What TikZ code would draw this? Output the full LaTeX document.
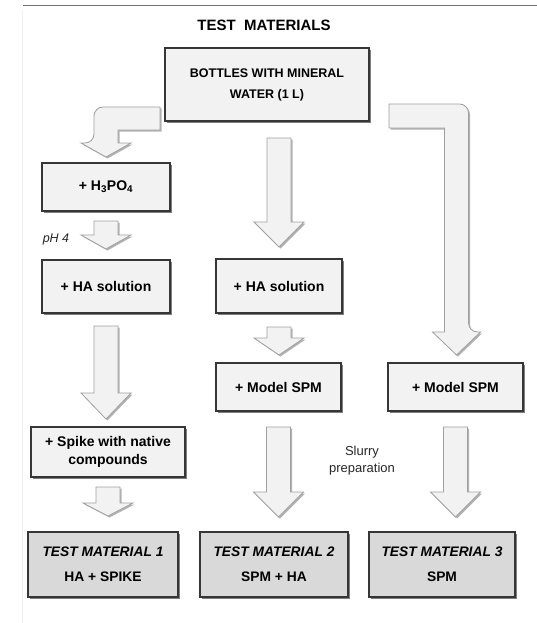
\documentclass[tikz,border=0pt]{standalone}
\usepackage{fontspec}
\setmainfont{Liberation Sans}
\usetikzlibrary{shadows,calc}
\definecolor{boxFill}{HTML}{F2F2F2}
\definecolor{boxLine}{HTML}{363636}
\definecolor{resFill}{HTML}{D9D9D9}
\definecolor{arrLine}{HTML}{A0A0A0}

% block arrow: x of #1, from #2 down to #3, gaps #4/#5, head length #6
\newcommand{\downblock}[6]{%
\draw[blockarr] let \p1=(#1), \p2=(#2.south), \p3=(#3.north) in
 (\x1-12pt,\y2-#4pt) -- (\x1+12pt,\y2-#4pt) -- (\x1+12pt,\y3+#5pt+#6pt) -- (\x1+25pt,\y3+#5pt+#6pt)
 -- (\x1,\y3+#5pt) -- (\x1-25pt,\y3+#5pt+#6pt) -- (\x1-12pt,\y3+#5pt+#6pt) -- cycle;}

\begin{document}
\begin{tikzpicture}
[
x=1pt, y=-1pt,
box/.style={draw=boxLine,fill=boxFill,line width=1.1pt,inner sep=2pt,outer sep=0pt,align=center,font=\fontsize{14}{18}\selectfont\bfseries,drop shadow={shadow xshift=2pt,shadow yshift=-2pt,fill=black,opacity=0.5}},
result/.style={box,fill=resFill,minimum height=65pt,font=\fontsize{13.8}{16}\selectfont\bfseries},
blockarr/.style={draw=arrLine,fill=boxFill,line width=0.8pt,drop shadow={shadow xshift=1.5pt,shadow yshift=-1.5pt,fill=black,opacity=0.3}},
note/.style={font=\fontsize{13}{17}\selectfont,text=black!85,align=center},
]
\useasboundingbox (0,0) rectangle (537,623);
\draw[black!55,line width=1.5pt] (23,5.5) -- (537,5.5);
\draw[black!6,line width=0.8pt] (22,10) -- (22,623);

% Nodes
\node[font=\fontsize{15}{18}\selectfont\bfseries] (title) at (264,25) {TEST\ \ MATERIALS};
\node[draw,box,minimum width=204pt,minimum height=73pt,font=\fontsize{12.5}{21}\selectfont\bfseries] (top) at (267,84.5) {BOTTLES WITH MINERAL\\WATER (1 L)};
\node[draw,box,minimum width=128pt,minimum height=48pt] (h3po4) at (106,187) {+ H\textsubscript{3}PO\textsubscript{4}};
\node[draw,box,minimum width=128pt,minimum height=53pt] (hasolA) at (106,286.5) {+ HA solution};
\node[draw,box,minimum width=154pt,minimum height=50pt] (spike) at (108,452) {+ Spike with native\\compounds};
\node[draw,box,minimum width=126pt,minimum height=54pt] (hasolB) at (279,286) {+ HA solution};
\node[draw,box,minimum width=125pt,minimum height=48pt] (spmB) at (278.5,387) {+ Model SPM};
\node[draw,box,minimum width=135pt,minimum height=48pt] (spmC) at (455.5,387) {+ Model SPM};
\node[draw,result,minimum width=150pt] (tm1) at (103,564.5) {\textit{TEST MATERIAL 1}\\[9pt]HA + SPIKE};
\node[draw,result,minimum width=148pt] (tm2) at (274,564.5) {\textit{TEST MATERIAL 2}\\[9pt]SPM + HA};
\node[draw,result,minimum width=146pt] (tm3) at (442,564.5) {\textit{TEST MATERIAL 3}\\[9pt]SPM};
\node[note,font=\fontsize{12.5}{15}\selectfont\itshape] (ph) at (56,239) {pH 4};
\node[note] (slurry) at (362,461) {Slurry\\preparation};

% Arrows
\draw[blockarr] let \p1=(top.west), \p2=(h3po4.north) in
 (\x1-5pt,\y1-22.5pt) [rounded corners=9pt] -- (\x2-12pt,\y1-22.5pt) -- (\x2-12pt,\y2+20pt) [sharp corners]
 -- (\x2-25pt,\y2+20pt) -- (\x2,\y2+6pt) -- (\x2+25pt,\y2+20pt) -- (\x2+12pt,\y2+20pt)
 -- (\x2+12pt,\y1-45.5pt) -- (\x1-5pt,\y1-45.5pt) -- cycle;
\draw[blockarr] let \p1=(top.east), \p2=(spmC.north) in
 (\x1+20pt,\y1-19.5pt) [rounded corners=9pt] -- (\x2+13pt,\y1-19.5pt) -- (\x2+13pt,\y2+31pt) [sharp corners]
 -- (\x2+25pt,\y2+31pt) -- (\x2+1pt,\y2+8pt) -- (\x2-23pt,\y2+31pt) -- (\x2-11pt,\y2+31pt)
 -- (\x2-11pt,\y1-43.5pt) -- (\x1+20pt,\y1-43.5pt) -- cycle;
\downblock{hasolB}{top}{hasolB}{17}{12}{25}
\downblock{h3po4}{h3po4}{hasolA}{10}{11}{14}
\downblock{hasolA}{hasolA}{spike}{13}{8}{26}
\downblock{spike}{spike}{tm1}{10}{16}{13}
\downblock{hasolB}{hasolB}{spmB}{14}{8}{17}
\downblock{spmB}{spmB}{tm2}{16}{15}{25}
\downblock{spmC}{spmC}{tm3}{16}{15}{25}

\end{tikzpicture}
\end{document}
